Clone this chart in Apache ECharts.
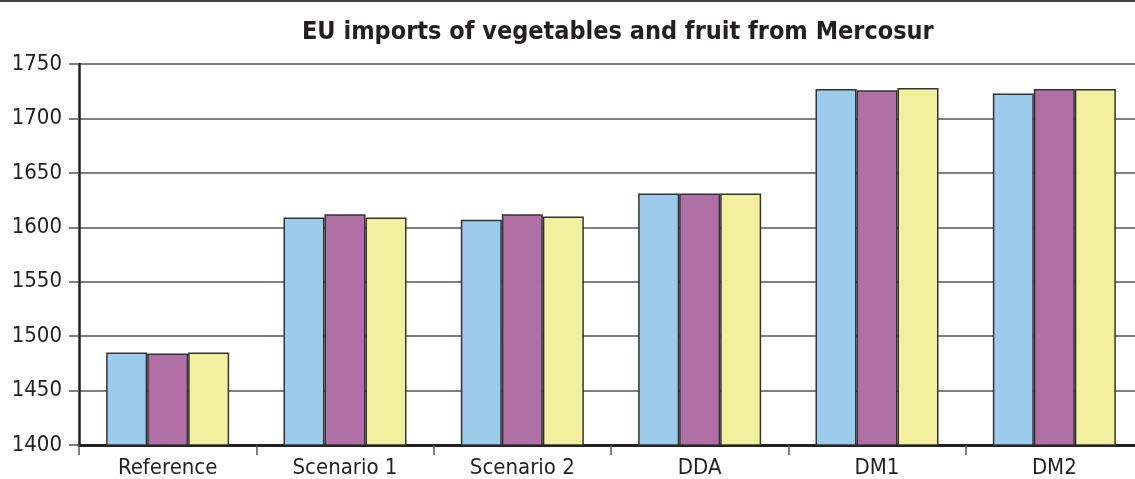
<!DOCTYPE html>
<html>
<head>
<meta charset="utf-8">
<title>EU imports of vegetables and fruit from Mercosur</title>
<script src="https://cdn.jsdelivr.net/npm/echarts@6/dist/echarts.min.js"></script>
<style>
  html, body { margin: 0; padding: 0; background: #fff; overflow: hidden; }
  /* the chart is a bit wider than the window: the right edge gets cut off like in the picture */
  #myChart { width: 1145px; height: 479px; }
</style>
</head>
<body>
<div id="myChart"></div>
<script>
// data
var categories = ['Reference', 'Scenario 1', 'Scenario 2', 'DDA', 'DM1', 'DM2'];
var seriesA = [1485, 1609, 1607, 1631, 1727, 1723];
var seriesB = [1484, 1612, 1612, 1631, 1726, 1727];
var seriesC = [1485, 1609, 1610, 1631, 1728, 1727];
var yTicks = [1400, 1450, 1500, 1550, 1600, 1650, 1700, 1750];

var font = '"DejaVu Sans Condensed", "Liberation Sans Narrow", Arial, sans-serif';
var barBorder = { borderColor: '#333', borderWidth: 1.5 };

function bar(name, data, color) {
    return {
        name: name,
        type: 'bar',
        data: data,
        barWidth: 41,
        barGap: '0%',
        itemStyle: Object.assign({ color: color }, barBorder)
    };
}

var myChart = echarts.init(document.getElementById('myChart'));

option = {
    animation: false,
    title: {
        text: 'EU imports of vegetables and fruit from Mercosur',
        left: 297,
        top: 15,
        textStyle: { fontFamily: font, fontWeight: 'bold', fontSize: 25, color: '#231f20' }
    },
    graphic: [{
        type: 'line',
        shape: { x1: 0, y1: 1, x2: 1145, y2: 1 },
        style: { stroke: '#444', lineWidth: 2 }
    }],
    grid: { left: 79, right: 2, top: 64, bottom: 34, containLabel: false },
    xAxis: {
        type: 'category',
        data: categories,
        axisLine: { lineStyle: { color: '#231f20', width: 3 } },
        axisTick: { show: true, length: 10, lineStyle: { color: '#555', width: 1.5 } },
        axisLabel: { margin: 12, fontFamily: font, fontSize: 22, color: '#231f20' }
    },
    yAxis: {
        type: 'value',
        min: yTicks[0],
        max: yTicks[yTicks.length - 1],
        interval: yTicks[1] - yTicks[0],
        axisLine: { show: true, lineStyle: { color: '#231f20', width: 2.5 } },
        axisTick: { show: true, length: 10, lineStyle: { color: '#555', width: 1.5 } },
        axisLabel: {
            margin: 17, fontFamily: font, fontSize: 22, color: '#231f20',
            formatter: function (v) { return String(v); }
        },
        splitLine: { lineStyle: { color: '#555', width: 1.5 } }
    },
    series: [
        bar('A', seriesA, '#9dcbeb'),
        bar('B', seriesB, '#b070a6'),
        bar('C', seriesC, '#f2f09f')
    ]
};

myChart.setOption(option);
</script>
</body>
</html>
